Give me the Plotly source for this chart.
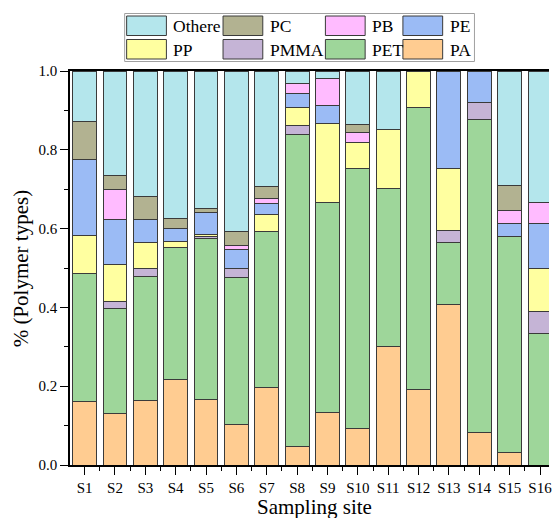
import plotly.graph_objects as go

# ---- data ----
sites = ["S1", "S2", "S3", "S4", "S5", "S6", "S7", "S8",
         "S9", "S10", "S11", "S12", "S13", "S14", "S15", "S16"]

PA    = [0.161, 0.131, 0.164, 0.216, 0.166, 0.103, 0.197, 0.046, 0.133, 0.092, 0.301, 0.191, 0.407, 0.083, 0.032, 0.000]
PET   = [0.324, 0.265, 0.315, 0.337, 0.408, 0.374, 0.395, 0.792, 0.534, 0.660, 0.400, 0.716, 0.157, 0.793, 0.549, 0.333]
PMMA  = [0.000, 0.020, 0.020, 0.000, 0.007, 0.022, 0.000, 0.024, 0.000, 0.000, 0.000, 0.000, 0.031, 0.043, 0.000, 0.056]
PP    = [0.097, 0.093, 0.066, 0.015, 0.005, 0.000, 0.043, 0.046, 0.201, 0.067, 0.151, 0.093, 0.157, 0.000, 0.000, 0.111]
PE    = [0.193, 0.114, 0.057, 0.033, 0.054, 0.048, 0.028, 0.036, 0.045, 0.000, 0.000, 0.000, 0.248, 0.081, 0.032, 0.112]
PB    = [0.000, 0.076, 0.000, 0.000, 0.000, 0.011, 0.014, 0.024, 0.067, 0.024, 0.000, 0.000, 0.000, 0.000, 0.032, 0.055]
PC    = [0.098, 0.037, 0.059, 0.024, 0.010, 0.034, 0.029, 0.000, 0.000, 0.022, 0.000, 0.000, 0.000, 0.000, 0.065, 0.000]
Othere = [0.127, 0.264, 0.319, 0.375, 0.350, 0.408, 0.294, 0.032, 0.020, 0.135, 0.148, 0.000, 0.000, 0.000, 0.290, 0.333]

series_names = ["PA", "PET", "PMMA", "PP", "PE", "PB", "PC", "Othere"]
series_values = [PA, PET, PMMA, PP, PE, PB, PC, Othere]
series_colors = ["#FFCC91", "#9ED69A", "#C5B4D6", "#FFFFA0", "#9BBBF5", "#FFBBFF", "#B2B291", "#B4E6EC"]

y_ticks = [0.0, 0.2, 0.4, 0.6, 0.8, 1.0]

# ---- layout geometry (pixels) ----
W, H = 552, 518
L, R, T, B = 70, 0, 71, 53
PW, PH = W - L - R, H - T - B
FONT = "Liberation Serif"


def px(x):
    return (x - L) / PW


def py(y):
    return (H - B - y) / PH


xpos = list(range(len(sites)))

fig = go.Figure()
for name, vals, col in zip(series_names, series_values, series_colors):
    fig.add_trace(go.Bar(
        x=xpos, y=vals, name=name, width=0.786,
        marker=dict(color=col, line=dict(color="#3a3a3a", width=1)),
        showlegend=False,
    ))

# ---- manual legend (large swatches like the original) ----
legend_rows = [["Othere", "PC", "PB", "PE"], ["PP", "PMMA", "PET", "PA"]]
col_left = [127, 224, 327, 405]
row_top = [16, 39.5]
sw_w, sw_h = 40, 19.5
shapes = [dict(type="rect", xref="paper", yref="paper",
               x0=px(125), x1=px(477), y0=py(13.5), y1=py(61.5),
               line=dict(color="#a0a0a0", width=1), fillcolor="white", layer="above")]
annotations = []
color_of = dict(zip(series_names, series_colors))
for r, row in enumerate(legend_rows):
    for c, nm in enumerate(row):
        x0 = col_left[c]
        y0 = row_top[r]
        shapes.append(dict(type="rect", xref="paper", yref="paper",
                           x0=px(x0), x1=px(x0 + sw_w), y0=py(y0), y1=py(y0 + sw_h),
                           line=dict(color="#3a3a3a", width=1), fillcolor=color_of[nm], layer="above"))
        annotations.append(dict(xref="paper", yref="paper", x=px(x0 + sw_w + 5), y=py(y0 + sw_h / 2 + 0.5),
                                text=nm, showarrow=False, xanchor="left", yanchor="middle",
                                font=dict(family=FONT, size=17.5, color="black")))

# axis titles
annotations.append(dict(xref="paper", yref="paper", x=px(316), y=py(507),
                        text="Sampling site", showarrow=False, xanchor="center", yanchor="middle",
                        font=dict(family=FONT, size=21, color="black")))
annotations.append(dict(xref="paper", yref="paper", x=px(21), y=py(269),
                        text="% (Polymer types)", showarrow=False, xanchor="center", yanchor="middle",
                        textangle=-90, font=dict(family=FONT, size=21, color="black")))

fig.update_layout(
    width=W, height=H,
    margin=dict(l=L, r=R, t=T, b=B, pad=0),
    barmode="stack",
    plot_bgcolor="white", paper_bgcolor="white",
    font=dict(family=FONT, size=15, color="black"),
    shapes=shapes, annotations=annotations,
)

fig.update_xaxes(
    range=[-0.481, -0.481 + PW / 30.55],
    tickmode="array", tickvals=xpos, ticktext=sites,
    ticks="outside", ticklen=8, tickwidth=1.2, tickcolor="black",
    ticklabeloverflow="allow",
    showline=True, linecolor="black", linewidth=1.6, mirror=True,
    showgrid=False, zeroline=False,
    tickfont=dict(family=FONT, size=15, color="black"),
    minor=dict(tickmode="array", tickvals=[v - 0.5 for v in xpos] + [15.5],
               ticks="outside", ticklen=4, tickwidth=1.2, tickcolor="black", showgrid=False),
)
fig.update_yaxes(
    range=[0, 1.0],
    tickmode="array", tickvals=y_ticks, tickformat=".1f",
    ticks="outside", ticklen=8, tickwidth=1.2, tickcolor="black",
    showline=True, linecolor="black", linewidth=1.6, mirror=False,
    showgrid=False, zeroline=False,
    tickfont=dict(family=FONT, size=15, color="black"),
    minor=dict(tickmode="array", tickvals=[0.1, 0.3, 0.5, 0.7, 0.9],
               ticks="outside", ticklen=4, tickwidth=1.2, tickcolor="black", showgrid=False),
)

fig.write_html("out.html")
